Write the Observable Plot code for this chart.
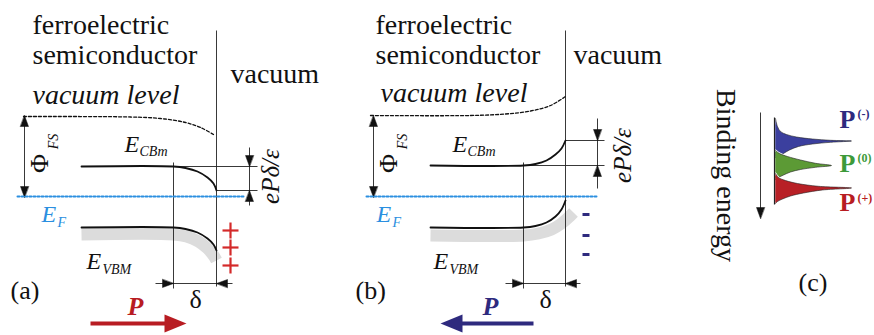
<!DOCTYPE html>
<html><head><meta charset="utf-8">
<script src="https://cdn.jsdelivr.net/npm/d3@7"></script>
<script src="https://cdn.jsdelivr.net/npm/@observablehq/plot@0.6"></script>
<style>html,body{margin:0;padding:0;background:#fff;} svg{display:block;} svg text{font-family:"Liberation Serif","Times New Roman",Times,serif;}</style>
</head><body><div id="chart"></div>
<script>
// ---------- data (diagram coordinates, pixels) ----------
const W = 874, H = 335;
const FONT = "'Liberation Serif', 'Times New Roman', Times, serif";

// band curves, panel (a): polarization pointing into the surface (downward bending)
const cbA = [[81,166],[173,166],[185,167.5],[197,171],[207,177],[213,183],[216,190]];
const vbA = [[81,227],[173,227],[185,228.5],[197,232],[207,238],[213,244],[216,250]];
const grayA = [[81,234],[173,234],[186,236],[198,241],[207,248],[213,255],[216,260]];
const vacA = [[23,116],[130,116.5],[160,118],[185,122],[200,127],[213,134]];
const efA = [[17,196],[245,196]];

// panel (b): upward bending
const cbB = [[430,165],[523,165],[535,163.5],[546,160],[555,154],[561,148],[565,140]];
const vbB = [[430,227],[523,227],[535,225.5],[546,222],[555,216],[561,209],[565,200]];
const grayB = [[430,235],[523,235],[538,233],[551,229],[561,223],[569,216],[573,212]];
const vacB = [[370,115],[470,115],[505,113.5],[530,110.5],[550,105],[565,96]];
const efB = [[366,196],[596,196]];

// thin construction lines [x1,y1,x2,y2]
const segments = [
  [216,30,216,286],[173,162,173,288],[173,166,257,166],[216,190,257,190],[249,147,249,205],[155,283,232,283],[24,118,24,194],
  [565,30,565,286],[523,162,523,288],[565,140,604,140],[523,165,604,165],[597,118,597,188],[505,283,580,283],[373,117,373,194],
  [760,112,760,208]
];
// arrow tips [x, y, direction]
const tips = [
  [249,166,"down"],[249,190,"up"],[173,283,"right"],[216,283,"left"],[24,115,"up"],[24,197,"down"],
  [597,140,"down"],[597,165,"up"],[523,283,"right"],[565,283,"left"],[373,115,"up"],[373,197,"down"],
  [760,218,"down"]
];
// polarization arrows
const pShaftA = [90,323,168,323], pTipA = [186,323,"right"];
const pShaftB = [533,323,458,323], pTipB = [440,323,"left"];

// surface charges
const plusY = [230,247,265];
const minusY = [214,235,254];

// panel (c) photoemission peaks (outline points)
const peakBlue = [[775,118],[777,126],[780,131],[786,134],[796,136.5],[812,138.5],[830,139.8],[851,140.5],[830,141.8],[812,143.5],[798,146],[789,149.5],[783,153],[778,156],[775,157]];
const peakGreen = [[775,150],[779,153],[787,156],[800,159.5],[815,162.8],[831,165],[815,166.8],[800,169],[790,171.5],[783,174.5],[778,177],[775,179]];
const peakRed = [[775,173],[778,177],[785,180],[797,183],[818,185.8],[851,187.5],[822,189.5],[803,192.5],[790,195.5],[782,198.5],[777,201],[775,203]];

// colors
const RED = "#b81c22", PLUS = "#d42a2a", NAVY = "#2e2a7e", BLUE = "#2b8fe0";
const PK_BLUE = "#3b3f9e", PK_GREEN = "#5c9a35", PK_RED = "#b82026", GREEN = "#3d9a3a";

// text labels: [text, x, y(baseline), size, style, weight, color, anchor]
const labels = [
  ["ferroelectric",32,33,28,"normal","normal","#111","start"],
  ["semiconductor",32,63,28,"normal","normal","#111","start"],
  ["vacuum",230,82,28,"normal","normal","#111","start"],
  ["vacuum level",32,103,28,"italic","normal","#111","start"],
  ["E",124,151,24,"italic","normal","#111","start"],
  ["CBm",139,155,14,"italic","normal","#111","start"],
  ["E",41,221,24,"italic","normal",BLUE,"start"],
  ["F",57,226,14,"italic","normal",BLUE,"start"],
  ["E",86,268,24,"italic","normal","#111","start"],
  ["VBM",102,273,14,"italic","normal","#111","start"],
  ["δ",195,307,26,"normal","normal","#111","middle"],
  ["(a)",10,298,26,"normal","normal","#111","start"],
  ["P",135,314,26,"italic","bold",RED,"middle"],

  ["ferroelectric",375,33,28,"normal","normal","#111","start"],
  ["semiconductor",375,63,28,"normal","normal","#111","start"],
  ["vacuum",573,63,28,"normal","normal","#111","start"],
  ["vacuum level",380,101,28,"italic","normal","#111","start"],
  ["E",452,151,24,"italic","normal","#111","start"],
  ["CBm",467,155,14,"italic","normal","#111","start"],
  ["E",376,221,24,"italic","normal",BLUE,"start"],
  ["F",392,226,14,"italic","normal",BLUE,"start"],
  ["E",433,268,24,"italic","normal","#111","start"],
  ["VBM",449,273,14,"italic","normal","#111","start"],
  ["δ",545,307,26,"normal","normal","#111","middle"],
  ["(b)",355,298,26,"normal","normal","#111","start"],
  ["P",490,314,26,"italic","bold",NAVY,"middle"],

  ["(c)",798,290,26,"normal","normal","#111","start"],
  ["P",839,127,26,"normal","bold",NAVY,"start"],
  ["(-)",857,117,12,"normal","bold",NAVY,"start"],
  ["P",839,171,26,"normal","bold",GREEN,"start"],
  ["(0)",857,161,12,"normal","bold",GREEN,"start"],
  ["P",839,210,26,"normal","bold",RED,"start"],
  ["(+)",857,201,12,"normal","bold",RED,"start"]
];
// rotated labels: [text, cx, cy, size, style, rotate]
const rotLabels = [
  ["Φ",39,163,26,"normal",-90],["FS",53,141,14,"italic",-90],["ePδ/ε",270,176,25,"italic",-90],
  ["Φ",388,163,26,"normal",-90],["FS",402,141,14,"italic",-90],["ePδ/ε",622,155,25,"italic",-90],
  ["Binding energy",725,175,28,"normal",90]
];

// ---------- helpers ----------
const P = d => ({x: d[0], y: d[1]});
function headPoly(t, L, w, id) {
  const [x, y, d] = t;
  const dx = {right:1,left:-1,up:0,down:0}[d], dy = {down:1,up:-1,left:0,right:0}[d];
  const bx = x - dx*L, by = y - dy*L, px = -dy, py = dx;
  return [{x, y, id}, {x: bx + px*w, y: by + py*w, id}, {x: bx - px*w, y: by - py*w, id}];
}
const line = (pts, o) => Plot.line(pts.map(P), {x:"x", y:"y", ...o});

const smallHeads = tips.flatMap((t,i) => headPoly(t, 11, 4, "h"+i));
const segData = segments.map(s => ({x1:s[0],y1:s[1],x2:s[2],y2:s[3]}));

const marks = [
  // gray band under the valence band
  line(grayA, {stroke:"#dcdcdc", strokeWidth:12, curve:"catmull-rom", strokeLinecap:"butt"}),
  line(grayB, {stroke:"#dcdcdc", strokeWidth:12, curve:"catmull-rom", strokeLinecap:"butt"}),
  // construction lines
  Plot.link(segData, {x1:"x1",y1:"y1",x2:"x2",y2:"y2", stroke:"#222", strokeWidth:0.9}),
  Plot.line(smallHeads, {x:"x", y:"y", z:"id", fill:"#111", stroke:"#111", strokeWidth:0.5, curve:"linear-closed"}),
  // Fermi level
  line(efA, {stroke:BLUE, strokeWidth:2, strokeDasharray:"2,2"}),
  line(efB, {stroke:BLUE, strokeWidth:2, strokeDasharray:"2,2"}),
  // vacuum level
  line(vacA, {stroke:"#111", strokeWidth:1.3, strokeDasharray:"3,2", curve:"catmull-rom"}),
  line(vacB, {stroke:"#111", strokeWidth:1.3, strokeDasharray:"3,2", curve:"catmull-rom"}),
  // bands
  line(cbA, {stroke:"#111", strokeWidth:1.8, curve:"catmull-rom"}),
  line(vbA, {stroke:"#111", strokeWidth:1.8, curve:"catmull-rom"}),
  line(cbB, {stroke:"#111", strokeWidth:1.8, curve:"catmull-rom"}),
  line(vbB, {stroke:"#111", strokeWidth:1.8, curve:"catmull-rom"}),
  // polarization arrows
  Plot.link([pShaftA], {x1:d=>d[0],y1:d=>d[1],x2:d=>d[2],y2:d=>d[3], stroke:RED, strokeWidth:4}),
  Plot.line(headPoly(pTipA, 22, 9, "pa"), {x:"x", y:"y", fill:RED, curve:"linear-closed"}),
  Plot.link([pShaftB], {x1:d=>d[0],y1:d=>d[1],x2:d=>d[2],y2:d=>d[3], stroke:NAVY, strokeWidth:4}),
  Plot.line(headPoly(pTipB, 22, 9, "pb"), {x:"x", y:"y", fill:NAVY, curve:"linear-closed"}),
  // surface charges: plus signs (two strokes each) and minus bars
  Plot.link(plusY, {x1:()=>222, x2:()=>238, y1:d=>d, y2:d=>d, stroke:PLUS, strokeWidth:2.2}),
  Plot.link(plusY, {x1:()=>230, x2:()=>230, y1:d=>d-8, y2:d=>d+8, stroke:PLUS, strokeWidth:2.2}),
  Plot.link(minusY, {x1:()=>582, x2:()=>589, y1:d=>d, y2:d=>d, stroke:NAVY, strokeWidth:3})
];
// peaks
for (const [pk, col] of [[peakBlue, PK_BLUE],[peakGreen, PK_GREEN],[peakRed, PK_RED]]) {
  marks.push(line(pk, {fill:col, stroke:"white", strokeWidth:2, curve:"catmull-rom"}));
  marks.push(line(pk, {fill:col, stroke:"#222", strokeWidth:0.6, curve:"catmull-rom"}));
}
marks.push(Plot.link([[774,117,774,204]], {x1:d=>d[0],y1:d=>d[1],x2:d=>d[2],y2:d=>d[3], stroke:"#222", strokeWidth:1.2}));
// labels
for (const [t,x,y,s,st,wt,c,a] of labels) {
  marks.push(Plot.text([t], {x:()=>x, y:()=>y, text:d=>d, fontSize:s, fontFamily:FONT, fontStyle:st, fontWeight:wt, fill:c, textAnchor:a, lineAnchor:"bottom"}));
}
for (const [t,x,y,s,st,r] of rotLabels) {
  marks.push(Plot.text([t], {x:()=>x, y:()=>y, text:d=>d, fontSize:s, fontFamily:FONT, fontStyle:st, fill:"#111", rotate:r, textAnchor:"middle", lineAnchor:"middle"}));
}

const chart = Plot.plot({
  width: W, height: H, margin: 0,
  x: {domain:[0,W], range:[0,W], axis:null},
  y: {domain:[0,H], range:[0,H], axis:null},
  style: {background:"white", overflow:"hidden", fontFamily: FONT},
  marks
});
document.getElementById("chart").append(chart);
</script></body></html>
